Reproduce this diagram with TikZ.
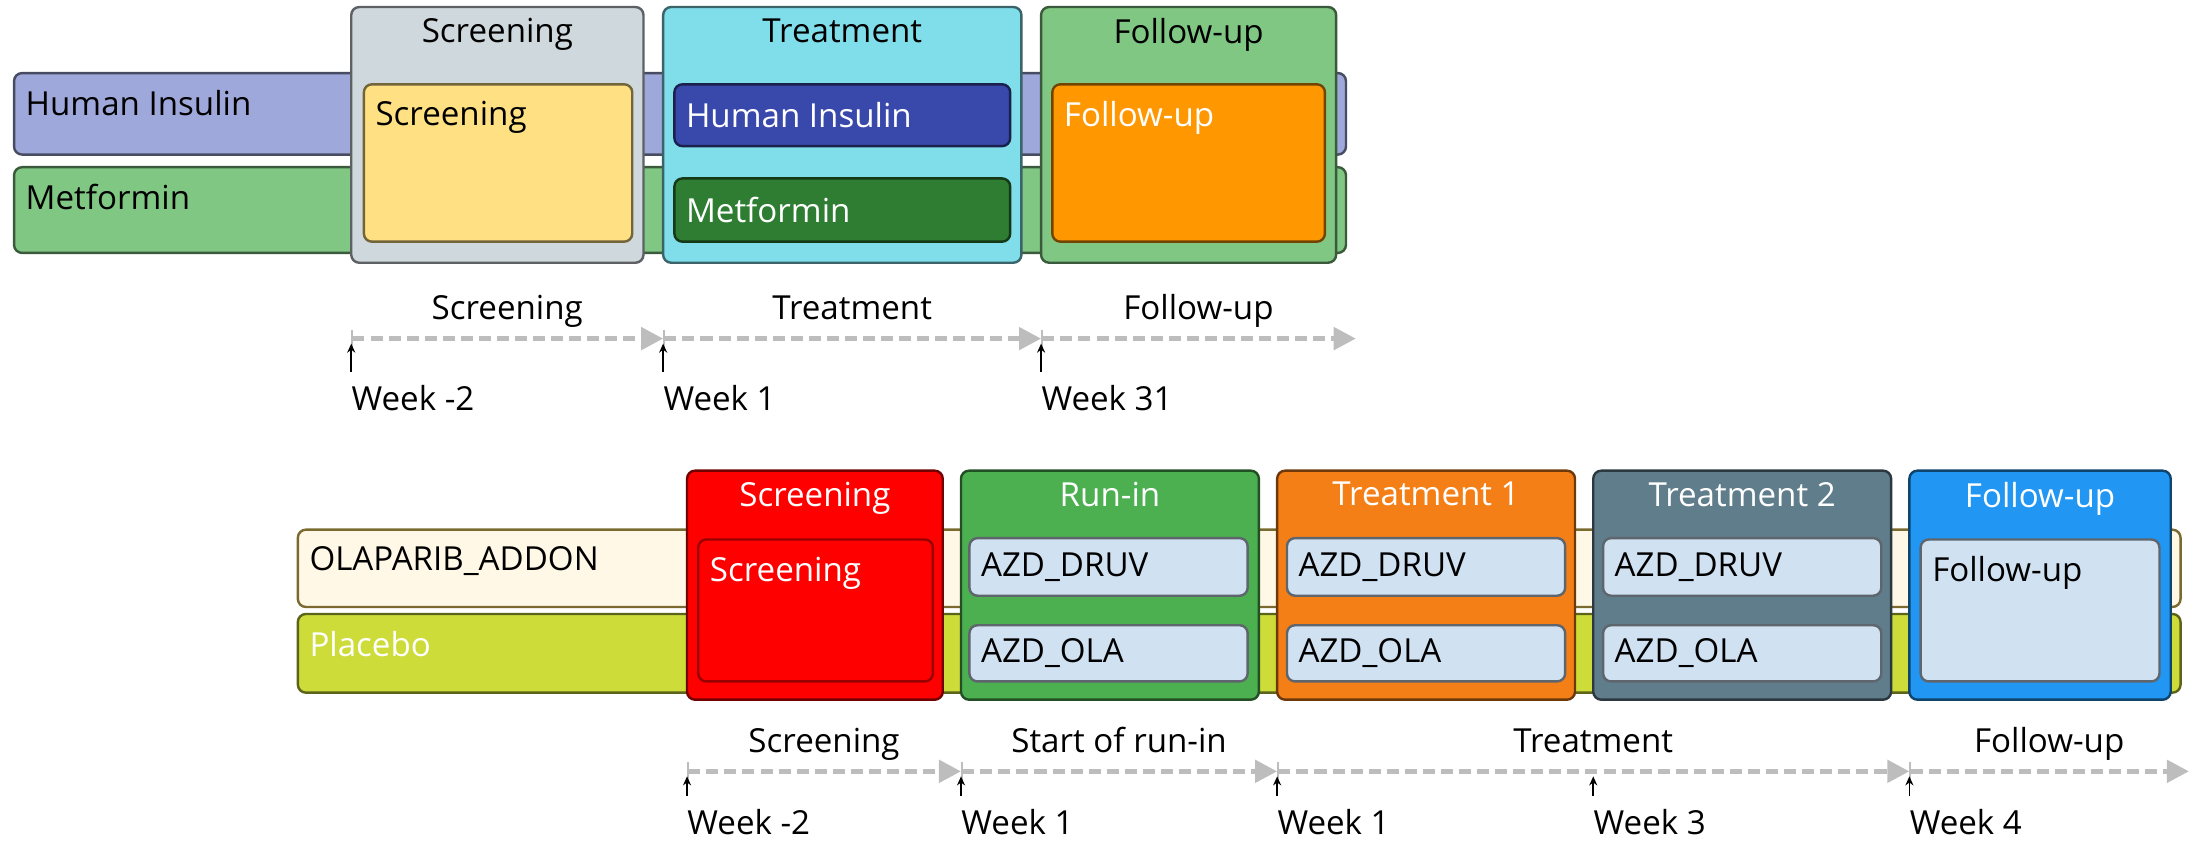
\documentclass[tikz,border=0pt]{standalone}
\usepackage{fontspec}
\setmainfont{Open Sans}
\usetikzlibrary{arrows.meta, positioning}

\definecolor{hiBar}{HTML}{9FA8DA}
\definecolor{metBar}{HTML}{81C784}
\definecolor{scrGray}{HTML}{CFD8DC}
\definecolor{amberIn}{HTML}{FFE082}
\definecolor{cyanT}{HTML}{80DEEA}
\definecolor{indigoIn}{HTML}{3949AB}
\definecolor{greenIn}{HTML}{2E7D32}
\definecolor{orangeIn}{HTML}{FF9800}
\definecolor{olaBar}{HTML}{FFF8E6}
\definecolor{olaLine}{HTML}{7A6A30}
\definecolor{placebo}{HTML}{CDDC39}
\definecolor{redS}{HTML}{FF0000}
\definecolor{runG}{HTML}{4CAF50}
\definecolor{trOne}{HTML}{F57F17}
\definecolor{trTwo}{HTML}{607D8B}
\definecolor{fuBlue}{HTML}{2196F3}
\definecolor{paleBlue}{HTML}{D0E1F2}
\definecolor{lineGray}{HTML}{BDBDBD}

\newcommand{\px}{0.7pt}

\begin{document}
\begin{tikzpicture}[
            x = 0.7pt, y = -0.7pt, % one unit per pixel of the sketch, y down
            font = \fontsize{16.5}{19}\selectfont,
            > = Stealth % arrow head style
        ]

        \tikzset{tone/.style={fill=#1, draw=#1!45!black}}
        \tikzstyle{arm}=[
            draw, line width = 1.2pt,
            rounded corners = 4pt,
            inner sep = 0pt, outer sep = 0pt,
            anchor = north west
        ]
        \tikzstyle{intxt}=[anchor=north west, inner sep=0pt, xshift=8*\px, yshift=-12*\px]
        \tikzstyle{midtxt}=[anchor=west, inner sep=0pt, xshift=8*\px]
        \tikzstyle{ttl}=[anchor=north, inner sep=0pt, yshift=-8*\px]
        \tikzset{seg/.style={draw=lineGray, line width=2.4pt, dash pattern=on 6pt off 3pt,
            {Bar[width=9pt, line width=0.8pt]}-{Triangle[length=11pt, width=11pt]}}}
        \tikzstyle{period}=[midway, anchor=base, inner sep=0pt, yshift=9.5pt]
        \tikzstyle{week}=[anchor=base west, inner sep=0pt]
        \tikzstyle{weekarrow}=[->, >={Stealth[length=4.5pt, width=4pt]}, line width=0.8pt,
            shorten <=6.5pt, shorten >=2.5pt]

        \useasboundingbox (0,0) rectangle (1568,600);

        % first design
        \node[arm, tone=hiBar, minimum width=948*\px, minimum height=58*\px,
              label={[intxt]north west:Human Insulin}] (hi) at (10,52) {};
        \node[arm, tone=metBar, minimum width=948*\px, minimum height=61*\px,
              label={[intxt]north west:Metformin}] (met) at (10,119) {};

        \node[arm, tone=scrGray, minimum width=208*\px, minimum height=182*\px,
              label={[ttl]north:Screening}] (scr) at (250,5) {};
        \node[arm, tone=cyanT, minimum width=255*\px, minimum height=182*\px,
              right=14*\px of scr, label={[ttl]north:Treatment}] (trt) {};
        \node[arm, tone=metBar, minimum width=210*\px, minimum height=182*\px,
              right=14*\px of trt, label={[ttl]north:Follow-up}] (fu) {};

        \node[arm, tone=amberIn, minimum width=191*\px, minimum height=112*\px,
              label={[intxt]north west:Screening}] (scrIn) at (259,60) {};
        \node[arm, tone=indigoIn, minimum width=239*\px, minimum height=44*\px,
              label={[midtxt, white]west:Human Insulin}] (hiIn) at (480,60) {};
        \node[arm, tone=greenIn, minimum width=239*\px, minimum height=45*\px,
              label={[midtxt, white]west:Metformin}] (metIn) at (480,127) {};
        \node[arm, tone=orangeIn, minimum width=194*\px, minimum height=112*\px,
              label={[intxt, white]north west:Follow-up}] (fuIn) at (749,60) {};

        \coordinate (s1) at (250,241);
        \coordinate (s2) at (472,241);
        \coordinate (s3) at (741,241);
        \coordinate (s4) at (965,241);

        \draw[seg] (s1) -- (s2) node[period] {Screening};
        \draw[seg] (s2) -- (s3) node[period] {Treatment};
        \draw[seg] (s3) -- (s4) node[period] {Follow-up};

        \node[week] (w1) at (250,292) {Week -2};
        \node[week] (w2) at (472,292) {Week 1};
        \node[week] (w3) at (741,292) {Week 31};
        \draw[weekarrow] (w1.north west) -- (s1);
        \draw[weekarrow] (w2.north west) -- (s2);
        \draw[weekarrow] (w3.north west) -- (s3);

        % second design
        \node[arm, fill=olaBar, draw=olaLine, minimum width=1340*\px, minimum height=55*\px,
              label={[intxt]north west:OLAPARIB\_ADDON}] (ola) at (212,377) {};
        \node[arm, tone=placebo, minimum width=1340*\px, minimum height=56*\px,
              label={[intxt, white]north west:Placebo}] (pla) at (212,437) {};

        \node[arm, tone=redS, minimum width=182*\px, minimum height=163*\px,
              label={[ttl, white]north:Screening}] (scrB) at (489,335) {};
        \node[arm, tone=runG, minimum width=212*\px, minimum height=163*\px,
              right=13*\px of scrB, label={[ttl, white]north:Run-in}] (run) {};
        \node[arm, tone=trOne, minimum width=212*\px, minimum height=163*\px,
              right=13*\px of run, label={[ttl, white]north:Treatment 1}] (trA) {};
        \node[arm, tone=trTwo, minimum width=212*\px, minimum height=163*\px,
              right=13*\px of trA, label={[ttl, white]north:Treatment 2}] (trB) {};
        \node[arm, tone=fuBlue, minimum width=186*\px, minimum height=163*\px,
              right=13*\px of trB, label={[ttl, white]north:Follow-up}] (fuB) {};

        \node[arm, fill=redS, draw=redS!60!black, minimum width=167*\px, minimum height=101*\px,
              label={[intxt, white]north west:Screening}] (scrBIn) at (497,384) {};
        \node[arm, tone=paleBlue, minimum width=198*\px, minimum height=41*\px,
              label={[midtxt]west:AZD\_DRUV}] (runDruv) at (690,383) {};
        \node[arm, tone=paleBlue, minimum width=198*\px, minimum height=40*\px,
              label={[midtxt]west:AZD\_OLA}] (runOla) at (690,445) {};
        \node[arm, tone=paleBlue, minimum width=198*\px, minimum height=41*\px,
              label={[midtxt]west:AZD\_DRUV}] (trADruv) at (916,383) {};
        \node[arm, tone=paleBlue, minimum width=198*\px, minimum height=40*\px,
              label={[midtxt]west:AZD\_OLA}] (trAOla) at (916,445) {};
        \node[arm, tone=paleBlue, minimum width=198*\px, minimum height=41*\px,
              label={[midtxt]west:AZD\_DRUV}] (trBDruv) at (1141,383) {};
        \node[arm, tone=paleBlue, minimum width=198*\px, minimum height=40*\px,
              label={[midtxt]west:AZD\_OLA}] (trBOla) at (1141,445) {};
        \node[arm, tone=paleBlue, minimum width=170*\px, minimum height=101*\px,
              label={[intxt]north west:Follow-up}] (fuBIn) at (1367,384) {};

        \coordinate (t1) at (489,549);
        \coordinate (t2) at (684,549);
        \coordinate (t3) at (909,549);
        \coordinate (t4) at (1359,549);
        \coordinate (t5) at (1558,549);
        \coordinate (t6) at (1134,549);

        \draw[seg] (t1) -- (t2) node[period] {Screening};
        \draw[seg] (t2) -- (t3) node[period] {Start of run-in};
        \draw[seg] (t3) -- (t4) node[period] {Treatment};
        \draw[seg] (t4) -- (t5) node[period] {Follow-up};

        \node[week] (v1) at (489,594) {Week -2};
        \node[week] (v2) at (684,594) {Week 1};
        \node[week] (v3) at (909,594) {Week 1};
        \node[week] (v4) at (1134,594) {Week 3};
        \node[week] (v5) at (1359,594) {Week 4};
        \draw[weekarrow] (v1.north west) -- (t1);
        \draw[weekarrow] (v2.north west) -- (t2);
        \draw[weekarrow] (v3.north west) -- (t3);
        \draw[weekarrow] (v4.north west) -- (t6);
        \draw[weekarrow] (v5.north west) -- (t4);

  \end{tikzpicture}
\end{document}
